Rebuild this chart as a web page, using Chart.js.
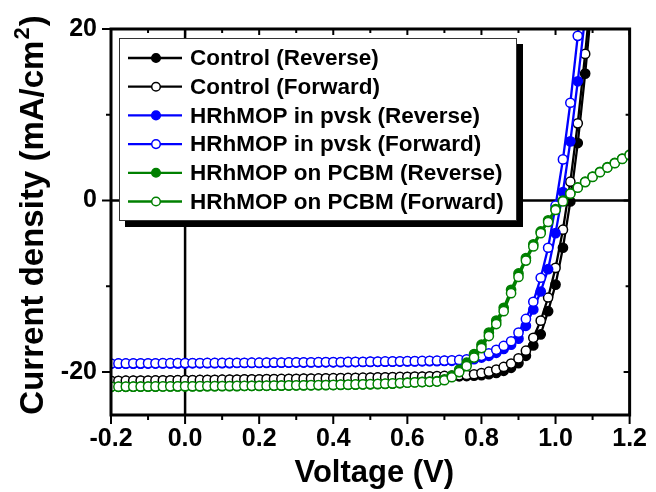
<!DOCTYPE html>
<html>
<head>
<meta charset="utf-8">
<script src="https://cdn.jsdelivr.net/npm/chart.js@4.4.1/dist/chart.umd.min.js"></script>
<style>
  html, body { margin: 0; padding: 0; background: #fff; }
  #wrap { width: 656px; height: 492px; }
</style>
</head>
<body>
<div id="wrap"><canvas id="jv" width="656" height="492"></canvas></div>
<script>
// J-V curves, voltage in V, current density in mA/cm2
const voltage = [
  -0.20, -0.18, -0.16, -0.14, -0.12, -0.10, -0.08, -0.06, -0.04, -0.02,
   0.00,  0.02,  0.04,  0.06,  0.08,  0.10,  0.12,  0.14,  0.16,  0.18,
   0.20,  0.22,  0.24,  0.26,  0.28,  0.30,  0.32,  0.34,  0.36,  0.38,
   0.40,  0.42,  0.44,  0.46,  0.48,  0.50,  0.52,  0.54,  0.56,  0.58,
   0.60,  0.62,  0.64,  0.66,  0.68,  0.70,  0.72,  0.74,  0.76,  0.78,
   0.80,  0.82,  0.84,  0.86,  0.88,  0.90,  0.92,  0.94,  0.96,  0.98,
   1.00,  1.02,  1.04,  1.06,  1.08,  1.10,  1.12,  1.14,  1.16,  1.18,
   1.20
];

const controlRev = [
  -21.05, -21.04, -21.03, -21.02, -21.01, -21.01, -21.00, -20.99, -20.98, -20.97,
  -20.96, -20.95, -20.94, -20.93, -20.92, -20.91, -20.90, -20.89, -20.88, -20.87,
  -20.86, -20.85, -20.84, -20.83, -20.82, -20.81, -20.80, -20.79, -20.78, -20.76,
  -20.75, -20.73, -20.72, -20.70, -20.69, -20.67, -20.65, -20.63, -20.61, -20.60,
  -20.58, -20.57, -20.56, -20.55, -20.54, -20.53, -20.51, -20.49, -20.46, -20.42,
  -20.36, -20.25, -20.10, -19.85, -19.50, -18.95, -18.10, -16.90, -15.60, -12.90,
  -9.80, -5.50, -0.10, 6.70, 14.80, 24.00
];
const controlFwd = [
  -21.02, -21.01, -21.00, -20.99, -20.98, -20.98, -20.97, -20.96, -20.95, -20.94,
  -20.93, -20.92, -20.91, -20.90, -20.89, -20.88, -20.87, -20.86, -20.85, -20.84,
  -20.83, -20.82, -20.81, -20.80, -20.79, -20.78, -20.76, -20.75, -20.74, -20.72,
  -20.71, -20.70, -20.68, -20.67, -20.65, -20.64, -20.62, -20.60, -20.58, -20.56,
  -20.55, -20.53, -20.51, -20.49, -20.47, -20.45, -20.42, -20.38, -20.33, -20.25,
  -20.12, -19.95, -19.70, -19.40, -19.00, -18.40, -17.50, -16.00, -14.00, -11.30,
  -7.85, -3.40, 2.20, 9.00, 17.10, 26.00
];
const pvskRev = [
  -19.03, -19.02, -19.02, -19.01, -19.01, -19.00, -19.00, -18.99, -18.99, -18.98,
  -18.98, -18.97, -18.97, -18.96, -18.96, -18.95, -18.95, -18.94, -18.94, -18.93,
  -18.93, -18.92, -18.91, -18.91, -18.90, -18.89, -18.89, -18.88, -18.87, -18.86,
  -18.86, -18.85, -18.84, -18.83, -18.82, -18.81, -18.80, -18.79, -18.78, -18.77,
  -18.76, -18.75, -18.74, -18.73, -18.72, -18.70, -18.68, -18.65, -18.60, -18.50,
  -18.30, -18.10, -17.75, -17.30, -16.80, -16.10, -14.60, -12.70, -10.60, -8.00,
  -3.80, 1.00, 6.90, 13.90, 21.50
];
const pvskFwd = [
  -19.00, -18.99, -18.99, -18.98, -18.98, -18.97, -18.97, -18.96, -18.96, -18.95,
  -18.95, -18.94, -18.94, -18.93, -18.93, -18.92, -18.92, -18.91, -18.91, -18.90,
  -18.90, -18.89, -18.88, -18.88, -18.87, -18.86, -18.86, -18.85, -18.84, -18.83,
  -18.83, -18.82, -18.81, -18.80, -18.79, -18.78, -18.77, -18.76, -18.75, -18.74,
  -18.73, -18.72, -18.70, -18.69, -18.67, -18.65, -18.62, -18.58, -18.50, -18.35,
  -18.10, -17.80, -17.40, -16.95, -16.40, -15.40, -13.80, -11.80, -9.00, -5.50,
  -0.60, 4.80, 11.40, 19.20, 27.50
];
const pcbmRev = [
  -21.72, -21.71, -21.71, -21.70, -21.70, -21.69, -21.69, -21.68, -21.68, -21.67,
  -21.67, -21.66, -21.66, -21.65, -21.64, -21.64, -21.63, -21.63, -21.62, -21.61,
  -21.61, -21.60, -21.59, -21.58, -21.57, -21.56, -21.55, -21.54, -21.53, -21.52,
  -21.51, -21.49, -21.48, -21.46, -21.44, -21.42, -21.40, -21.37, -21.34, -21.30,
  -21.22, -21.18, -21.14, -21.10, -21.05, -20.85, -20.40, -19.70, -18.90, -17.90,
  -16.80, -15.40, -14.00, -12.50, -10.40, -8.50, -6.70, -5.10, -3.60, -2.30,
  -1.00, 0.00, 0.85, 1.55, 2.20, 2.80, 3.35, 3.90, 4.40, 4.90, 5.35
];
const pcbmFwd = [
  -21.70, -21.70, -21.69, -21.69, -21.68, -21.68, -21.67, -21.67, -21.66, -21.66,
  -21.65, -21.65, -21.64, -21.63, -21.63, -21.62, -21.62, -21.61, -21.60, -21.60,
  -21.59, -21.58, -21.57, -21.56, -21.55, -21.54, -21.53, -21.52, -21.51, -21.50,
  -21.49, -21.47, -21.46, -21.44, -21.42, -21.40, -21.38, -21.35, -21.32, -21.28,
  -21.24, -21.20, -21.16, -21.13, -21.10, -20.95, -20.60, -20.00, -19.30, -18.30,
  -17.20, -15.80, -14.40, -12.90, -10.80, -8.90, -7.00, -5.35, -3.80, -2.50,
  -1.10, -0.10, 0.80, 1.50, 2.15, 2.75, 3.30, 3.85, 4.35, 4.85, 5.30
];

const seriesLabels = [
  'Control (Reverse)', 'Control (Forward)',
  'HRhMOP in pvsk (Reverse)', 'HRhMOP in pvsk (Forward)',
  'HRhMOP on PCBM (Reverse)', 'HRhMOP on PCBM (Forward)'
];
const seriesValues = [controlRev, controlFwd, pvskRev, pvskFwd, pcbmRev, pcbmFwd];
const seriesColors = ['#000000', '#000000', '#0000ff', '#0000ff', '#008000', '#008000'];
const seriesFilled = [true, false, true, false, true, false];

const xTicks = [-0.2, 0, 0.2, 0.4, 0.6, 0.8, 1.0, 1.2];
const xMinor = [-0.1, 0.1, 0.3, 0.5, 0.7, 0.9, 1.1];
const yTicks = [-20, 0, 20];
const yMinor = [-10, 10];

const FONT = '"Liberation Sans", Arial, Helvetica, sans-serif';

// zero lines under the data
const zeroLines = {
  id: 'zeroLines',
  beforeDatasetsDraw(chart) {
    const { ctx, chartArea: a, scales: { x, y } } = chart;
    const x0 = x.getPixelForValue(0), y0 = y.getPixelForValue(0);
    ctx.save();
    ctx.strokeStyle = '#000';
    ctx.lineWidth = 2.5;
    ctx.beginPath();
    ctx.moveTo(x0, a.top); ctx.lineTo(x0, a.bottom);
    ctx.moveTo(a.left, y0); ctx.lineTo(a.right, y0);
    ctx.stroke();
    ctx.restore();
  }
};

// box frame, tick marks and axis titles
const frame = {
  id: 'frame',
  afterDatasetsDraw(chart) {
    const { ctx, chartArea: a, scales: { x, y } } = chart;
    ctx.save();
    ctx.strokeStyle = '#000';
    ctx.lineWidth = 3;
    ctx.strokeRect(a.left, a.top, a.right - a.left, a.bottom - a.top);

    ctx.lineWidth = 2;
    ctx.beginPath();
    const tickX = (vals, out, inn) => vals.forEach(v => {
      const px = x.getPixelForValue(v);
      ctx.moveTo(px, a.bottom); ctx.lineTo(px, a.bottom + out);
      ctx.moveTo(px, a.top); ctx.lineTo(px, a.top + inn);
    });
    const tickY = (vals, out, inn) => vals.forEach(v => {
      const py = y.getPixelForValue(v);
      ctx.moveTo(a.left, py); ctx.lineTo(a.left - out, py);
      ctx.moveTo(a.right, py); ctx.lineTo(a.right - inn, py);
    });
    tickX(xTicks, 9, 6);
    tickX(xMinor, 5, 4);
    tickY(yTicks, 9, 6);
    tickY(yMinor, 5, 4);
    ctx.stroke();

    // x title
    ctx.fillStyle = '#000';
    ctx.font = 'bold 31px ' + FONT;
    ctx.textAlign = 'center';
    ctx.textBaseline = 'alphabetic';
    ctx.fillText('Voltage (V)', (a.left + a.right) / 2 + 4, 482);

    // y title with superscript
    ctx.translate(43, 216);
    ctx.rotate(-Math.PI / 2);
    const main = 'Current density (mA/cm', sup = '2', tail = ')';
    ctx.font = 'bold 33px ' + FONT;
    const w1 = ctx.measureText(main).width, w3 = ctx.measureText(tail).width;
    ctx.font = 'bold 22px ' + FONT;
    const w2 = ctx.measureText(sup).width;
    const sx = -(w1 + w2 + w3) / 2;
    ctx.textAlign = 'left';
    ctx.font = 'bold 33px ' + FONT;
    ctx.fillText(main, sx, 0);
    ctx.font = 'bold 22px ' + FONT;
    ctx.fillText(sup, sx + w1 + 1, -14);
    ctx.font = 'bold 33px ' + FONT;
    ctx.fillText(tail, sx + w1 + w2 + 2, 0);
    ctx.restore();
  }
};

// legend box with drop shadow, inside the plot
const legendBox = {
  id: 'legendBox',
  afterDraw(chart) {
    const ctx = chart.ctx;
    const bx = 119, by = 38, bw = 398, bh = 183;
    ctx.save();
    ctx.fillStyle = '#000';
    ctx.fillRect(bx + 6, by + 6, bw, bh);
    ctx.fillStyle = '#fff';
    ctx.fillRect(bx, by, bw, bh);
    ctx.strokeStyle = '#333';
    ctx.lineWidth = 1;
    ctx.strokeRect(bx + 0.5, by + 0.5, bw - 1, bh - 1);

    ctx.font = 'bold 22.5px ' + FONT;
    ctx.textAlign = 'left';
    ctx.textBaseline = 'middle';
    chart.data.datasets.forEach((ds, i) => {
      const yy = by + 20 + i * 28.7;
      ctx.strokeStyle = ds.borderColor;
      ctx.lineWidth = 2.3;
      ctx.beginPath();
      ctx.moveTo(bx + 9, yy); ctx.lineTo(bx + 63, yy);
      ctx.stroke();
      ctx.beginPath();
      ctx.arc(bx + 37, yy, 4.3, 0, Math.PI * 2);
      ctx.fillStyle = ds.pointBackgroundColor;
      ctx.fill();
      ctx.lineWidth = 1.5;
      ctx.strokeStyle = ds.pointBorderColor;
      ctx.stroke();
      ctx.fillStyle = '#000';
      ctx.fillText(ds.label, bx + 71, yy + 1);
    });
    ctx.restore();
  }
};

const datasets = seriesLabels.map((label, i) => ({
  label: label,
  data: seriesValues[i].map((j, k) => ({ x: voltage[k], y: j })),
  borderColor: seriesColors[i],
  backgroundColor: seriesColors[i],
  borderWidth: 2.3,
  pointRadius: 4.6,
  pointBorderWidth: 1.5,
  pointBorderColor: seriesColors[i],
  pointBackgroundColor: seriesFilled[i] ? seriesColors[i] : '#ffffff',
  fill: false,
  tension: 0,
  clip: 0,
  order: seriesLabels.length - i
}));

const tickFont = { family: FONT, weight: 'bold', size: 25 };

new Chart(document.getElementById('jv'), {
  type: 'line',
  data: { datasets: datasets },
  options: {
    responsive: false,
    animation: false,
    devicePixelRatio: 1,
    events: [],
    layout: { padding: { top: 26, right: 23, left: 0, bottom: 0 } },
    plugins: { legend: { display: false }, tooltip: { enabled: false } },
    scales: {
      x: {
        type: 'linear',
        min: -0.2,
        max: 1.2,
        afterBuildTicks: s => { s.ticks = xTicks.map(v => ({ value: v })); },
        afterFit: s => { s.height = 77; },
        grid: { display: false, drawTicks: false },
        border: { display: false },
        ticks: {
          padding: 9,
          autoSkip: false,
          maxRotation: 0,
          color: '#000',
          font: tickFont,
          callback: v => Number(v).toFixed(1)
        }
      },
      y: {
        type: 'linear',
        min: -25,
        max: 20,
        afterBuildTicks: s => { s.ticks = yTicks.map(v => ({ value: v })); },
        afterFit: s => { s.width = 111; },
        grid: { display: false, drawTicks: false },
        border: { display: false },
        ticks: {
          padding: 14,
          color: '#000',
          font: tickFont,
          callback: v => String(v)
        }
      }
    }
  },
  plugins: [zeroLines, frame, legendBox]
});
</script>
</body>
</html>
